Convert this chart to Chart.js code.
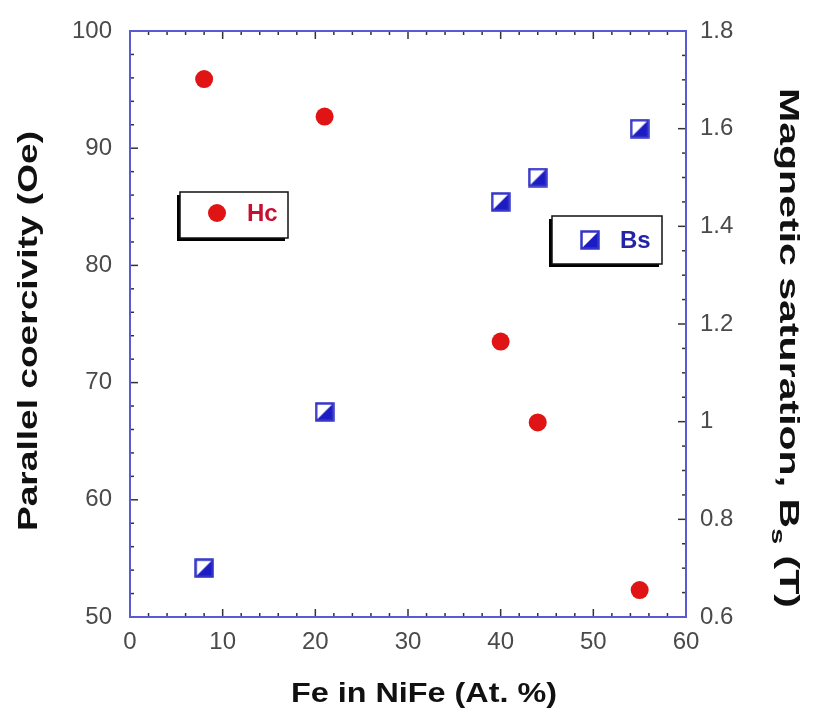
<html>
<head>
<title>NiFe coercivity and saturation</title>
<script src="https://cdn.jsdelivr.net/npm/chart.js@4.4.0/dist/chart.umd.min.js"></script>
<style>
  body { margin: 0; background: #fff; }
  #wrap { width: 814px; height: 720px; position: relative; }
</style>
</head>
<body>
<div id="wrap"><canvas id="canvas"></canvas></div>
<script>
// Fe content (at. %) of the NiFe films
const feContent = [8, 21, 40, 44, 55];
// parallel coercivity Hc (Oe), left axis
const coercivity = [95.9, 92.7, 73.5, 66.6, 52.3];
// magnetic saturation Bs (T), right axis
const saturation = [0.70, 1.02, 1.45, 1.50, 1.60];

const FONT = "'Liberation Sans', Arial, sans-serif";
const RED = '#e01414';
const BLUE = '#1c1cc4';

// half-filled square marker for Bs
function makeSquare() {
  const c = document.createElement('canvas');
  c.width = 20; c.height = 20;
  const g = c.getContext('2d');
  g.fillStyle = '#fff';
  g.fillRect(0, 0, 20, 20);
  g.fillStyle = BLUE;
  g.beginPath();
  g.moveTo(19, 1); g.lineTo(19, 19); g.lineTo(1, 19); g.closePath();
  g.fill();
  g.strokeStyle = '#3434c8';
  g.lineWidth = 2.5;
  g.strokeRect(1.5, 1.5, 17, 17);
  return c;
}
const squareMarker = makeSquare();

function line(ctx, x1, y1, x2, y2) {
  ctx.beginPath(); ctx.moveTo(x1, y1); ctx.lineTo(x2, y2); ctx.stroke();
}

// text stretched to a given length, parts allow a subscript
function fitText(ctx, parts, x, y, angle, length, color) {
  ctx.save();
  ctx.translate(x, y);
  ctx.rotate(angle);
  ctx.fillStyle = color;
  ctx.textAlign = 'left';
  ctx.textBaseline = 'alphabetic';
  let total = 0;
  parts.forEach(p => { ctx.font = p.font; p.w = ctx.measureText(p.text).width; total += p.w; });
  ctx.scale(length / total, 1);
  let cx = -total / 2;
  parts.forEach(p => { ctx.font = p.font; ctx.fillText(p.text, cx, p.dy || 0); cx += p.w; });
  ctx.restore();
}

// blue frame with inward ticks on all four sides
const framePlugin = {
  id: 'frame',
  beforeDatasetsDraw(chart) {
    const { ctx, chartArea: a, scales } = chart;
    ctx.save();
    ctx.strokeStyle = '#333';
    ctx.lineWidth = 1.5;
    for (let v = 0; v <= 60; v += 2) {
      const px = scales.x.getPixelForValue(v);
      const len = v % 10 === 0 ? 8 : 4;
      line(ctx, px, a.bottom, px, a.bottom - len);
      line(ctx, px, a.top, px, a.top + len);
    }
    for (let v = 50; v <= 100; v += 2) {
      const py = scales.y.getPixelForValue(v);
      const len = v % 10 === 0 ? 8 : 4;
      line(ctx, a.left, py, a.left + len, py);
    }
    for (let i = 0; i <= 24; i++) {
      const py = scales.y2.getPixelForValue(0.6 + i * 0.05);
      const len = i % 4 === 0 ? 8 : 4;
      line(ctx, a.right, py, a.right - len, py);
    }
    ctx.strokeStyle = '#5a5ad2';
    ctx.lineWidth = 2;
    ctx.strokeRect(a.left, a.top, a.right - a.left, a.bottom - a.top);
    ctx.restore();
  }
};

// boxed legends with a drop shadow
function legendBox(ctx, x, y, w, h) {
  ctx.fillStyle = '#000';
  ctx.fillRect(x - 3, y + 3, w, h);
  ctx.fillStyle = '#fff';
  ctx.fillRect(x, y, w, h);
  ctx.strokeStyle = '#111';
  ctx.lineWidth = 1.5;
  ctx.strokeRect(x, y, w, h);
}

const legendPlugin = {
  id: 'boxLegend',
  afterDatasetsDraw(chart) {
    const ctx = chart.ctx;
    ctx.save();
    legendBox(ctx, 180, 192, 108, 46);
    ctx.fillStyle = RED;
    ctx.beginPath(); ctx.arc(217, 213, 9, 0, Math.PI * 2); ctx.fill();
    ctx.font = 'bold 24px ' + FONT;
    ctx.textBaseline = 'middle';
    ctx.fillStyle = '#c8102e';
    ctx.fillText('Hc', 247, 214);

    legendBox(ctx, 552, 216, 110, 48);
    ctx.drawImage(squareMarker, 580, 230);
    ctx.fillStyle = '#2323a8';
    ctx.fillText('Bs', 620, 241);
    ctx.restore();
  }
};

const titlePlugin = {
  id: 'axisTitles',
  afterDraw(chart) {
    const ctx = chart.ctx;
    const f = 'bold 27px ' + FONT;
    fitText(ctx, [{ text: 'Parallel coercivity (Oe)', font: f }], 37, 331, -Math.PI / 2, 400, '#111');
    fitText(ctx, [
      { text: 'Magnetic saturation, B', font: f },
      { text: 's', font: 'bold 19px ' + FONT, dy: 8 },
      { text: ' (T)', font: f }
    ], 780, 348, Math.PI / 2, 520, '#111');
    fitText(ctx, [{ text: 'Fe in NiFe (At. %)', font: f }], 424, 702, 0, 266, '#111');
  }
};

const tickFont = { family: FONT, size: 24 };

new Chart(document.getElementById('canvas'), {
  type: 'scatter',
  data: {
    datasets: [
      {
        label: 'Hc',
        data: feContent.map((x, i) => ({ x: x, y: coercivity[i] })),
        yAxisID: 'y',
        pointStyle: 'circle',
        pointRadius: 9,
        backgroundColor: RED,
        borderColor: RED,
        borderWidth: 0
      },
      {
        label: 'Bs',
        data: feContent.map((x, i) => ({ x: x, y: saturation[i] })),
        yAxisID: 'y2',
        pointStyle: squareMarker,
        pointRadius: 10
      }
    ]
  },
  options: {
    responsive: true,
    maintainAspectRatio: false,
    animation: false,
    layout: { padding: { top: 31, left: 0, right: 0, bottom: 0 } },
    plugins: { legend: { display: false }, tooltip: { enabled: false } },
    scales: {
      x: {
        type: 'linear', min: 0, max: 60,
        grid: { display: false }, border: { display: false },
        ticks: { stepSize: 10, font: tickFont, color: '#4a4a4a', padding: 3 },
        afterFit: s => { s.height = 103; }
      },
      y: {
        position: 'left', min: 50, max: 100,
        grid: { display: false }, border: { display: false },
        ticks: { stepSize: 10, font: tickFont, color: '#4a4a4a', padding: 10 },
        afterFit: s => { s.width = 130; }
      },
      y2: {
        position: 'right', min: 0.6, max: 1.8,
        grid: { display: false }, border: { display: false },
        ticks: {
          stepSize: 0.2, font: tickFont, color: '#4a4a4a', padding: 6,
          callback: v => String(+v.toFixed(1))
        },
        afterFit: s => { s.width = 128; }
      }
    }
  },
  plugins: [framePlugin, legendPlugin, titlePlugin]
});
</script>
</body>
</html>
